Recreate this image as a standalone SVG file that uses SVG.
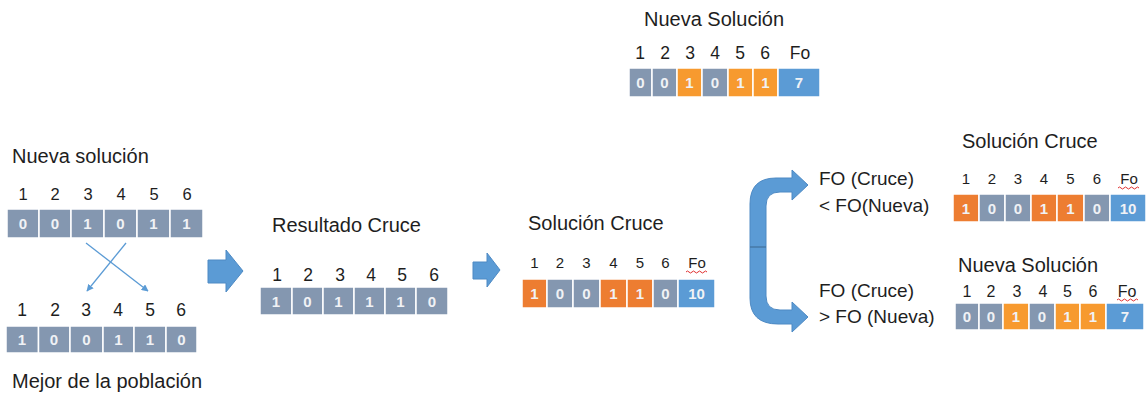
<svg xmlns="http://www.w3.org/2000/svg" width="1147" height="398" viewBox="0 0 1147 398">
<style>
text{font-family:"Liberation Sans",Arial,sans-serif;fill:#1e1e1e}
.title{font-size:20px}
.fo{font-size:19px}
.idx text{font-family:"Liberation Sans Narrow","Liberation Sans",Arial,sans-serif;text-anchor:middle}
.v{font-size:15px;font-weight:bold;fill:#F0F2F5;text-anchor:middle}
.g{fill:#8497B0;stroke:#fff;stroke-width:1.5}
.o{fill:#ED7D31;stroke:#fff;stroke-width:1.5}
.lo{fill:#F79A2F;stroke:#fff;stroke-width:1.5}
.b{fill:#5B9BD5;stroke:#fff;stroke-width:1.5}
.big{fill:#5B9BD5;stroke:#4E8AC4;stroke-width:1}
.thin{stroke:#5B9BD5;stroke-width:1.3;fill:none}
.sq{fill:none;stroke:#E03030;stroke-width:1}
</style>
<defs>
<marker id="ah" viewBox="0 0 10 10" refX="9" refY="5" markerWidth="7" markerHeight="7" orient="auto" markerUnits="userSpaceOnUse">
<path d="M0,0 L10,5 L0,10 Z" fill="#5B9BD5"/>
</marker>
</defs>

<g id="nueva-top">
<text class="title" x="644" y="26">Nueva Solución</text>
<g class="idx" font-size="17.5">
<text x="640" y="59">1</text><text x="665" y="59">2</text><text x="690" y="59">3</text><text x="715" y="59">4</text><text x="740" y="59">5</text><text x="765" y="59">6</text><text x="800" y="59">Fo</text>
</g>
<rect class="g" x="629" y="68" width="23" height="29"/><rect class="g" x="652" y="68" width="25" height="29"/><rect class="lo" x="677" y="68" width="25" height="29"/><rect class="g" x="702" y="68" width="26" height="29"/><rect class="lo" x="728" y="68" width="25" height="29"/><rect class="lo" x="753" y="68" width="25" height="29"/><rect class="b" x="778" y="68" width="42" height="29"/>
<text class="v" x="640.5" y="88">0</text><text class="v" x="664.5" y="88">0</text><text class="v" x="689.5" y="88">1</text><text class="v" x="715" y="88">0</text><text class="v" x="740.5" y="88">1</text><text class="v" x="765.5" y="88">1</text><text class="v" x="799" y="88">7</text>
</g>

<g id="nueva-left">
<text class="title" x="12" y="163">Nueva solución</text>
<g class="idx" font-size="16.5">
<text x="23" y="200">1</text><text x="55" y="200">2</text><text x="88" y="200">3</text><text x="121" y="200">4</text><text x="154" y="200">5</text><text x="187" y="200">6</text>
</g>
<rect class="g" x="7" y="209" width="32" height="29"/><rect class="g" x="39" y="209" width="32" height="29"/><rect class="g" x="71" y="209" width="33" height="29"/><rect class="g" x="104" y="209" width="33" height="29"/><rect class="g" x="137" y="209" width="33" height="29"/><rect class="g" x="170" y="209" width="33" height="29"/>
<text class="v" x="23" y="229">0</text><text class="v" x="55" y="229">0</text><text class="v" x="87.5" y="229">1</text><text class="v" x="120.5" y="229">0</text><text class="v" x="153.5" y="229">1</text><text class="v" x="186.5" y="229">1</text>
</g>

<g id="mejor-left">
<g class="idx" font-size="17.5">
<text x="22" y="316">1</text><text x="55" y="316">2</text><text x="86" y="316">3</text><text x="118" y="316">4</text><text x="150" y="316">5</text><text x="181" y="316">6</text>
</g>
<rect class="g" x="6" y="326" width="32.5" height="27"/><rect class="g" x="38.5" y="326" width="31.5" height="27"/><rect class="g" x="70" y="326" width="33" height="27"/><rect class="g" x="103" y="326" width="31" height="27"/><rect class="g" x="134" y="326" width="32" height="27"/><rect class="g" x="166" y="326" width="31" height="27"/>
<text class="v" x="22" y="345">1</text><text class="v" x="54" y="345">0</text><text class="v" x="86.5" y="345">0</text><text class="v" x="118.5" y="345">1</text><text class="v" x="150" y="345">1</text><text class="v" x="181.5" y="345">0</text>
<text class="title" x="12" y="388">Mejor de la población</text>
</g>

<g id="resultado">
<text class="title" x="272" y="232">Resultado Cruce</text>
<g class="idx" font-size="17.5">
<text x="277" y="281">1</text><text x="308" y="281">2</text><text x="340" y="281">3</text><text x="371" y="281">4</text><text x="402" y="281">5</text><text x="434" y="281">6</text>
</g>
<rect class="g" x="260" y="287" width="32" height="28"/><rect class="g" x="292" y="287" width="31" height="28"/><rect class="g" x="323" y="287" width="31" height="28"/><rect class="g" x="354" y="287" width="31" height="28"/><rect class="g" x="385" y="287" width="31" height="28"/><rect class="g" x="416" y="287" width="32" height="28"/>
<text class="v" x="276" y="306.5">1</text><text class="v" x="307.5" y="306.5">0</text><text class="v" x="338.5" y="306.5">1</text><text class="v" x="369.5" y="306.5">1</text><text class="v" x="400.5" y="306.5">1</text><text class="v" x="432" y="306.5">0</text>
</g>

<g id="solucion-mid">
<text class="title" x="528" y="230">Solución Cruce</text>
<g class="idx" font-size="15">
<text x="534.5" y="268">1</text><text x="560" y="268">2</text><text x="586.5" y="268">3</text><text x="613.5" y="268">4</text><text x="640" y="268">5</text><text x="665.5" y="268">6</text><text x="697" y="268">Fo</text>
</g>
<path class="sq" d="M686,272 q1.5,-2 3,0 t3,0 t3,0 t3,0 t3,0 t3,0 t3,0"/>
<rect class="o" x="522" y="279" width="25" height="29"/><rect class="g" x="547" y="279" width="26" height="29"/><rect class="g" x="573" y="279" width="27" height="29"/><rect class="o" x="600" y="279" width="27" height="29"/><rect class="o" x="627" y="279" width="26" height="29"/><rect class="g" x="653" y="279" width="25" height="29"/><rect class="b" x="678" y="279" width="37" height="29"/>
<text class="v" x="534.5" y="299">1</text><text class="v" x="560" y="299">0</text><text class="v" x="586.5" y="299">0</text><text class="v" x="613.5" y="299">1</text><text class="v" x="640" y="299">1</text><text class="v" x="665.5" y="299">0</text><text class="v" x="696.5" y="299">10</text>
</g>

<g id="solucion-right">
<text class="title" x="962" y="148">Solución Cruce</text>
<g class="idx" font-size="15">
<text x="966" y="184">1</text><text x="992" y="184">2</text><text x="1018" y="184">3</text><text x="1044" y="184">4</text><text x="1070.5" y="184">5</text><text x="1097" y="184">6</text><text x="1129" y="184">Fo</text>
</g>
<path class="sq" d="M1118,188 q1.5,-2 3,0 t3,0 t3,0 t3,0 t3,0 t3,0 t3,0"/>
<rect class="o" x="953" y="194" width="26" height="28"/><rect class="g" x="979" y="194" width="26" height="28"/><rect class="g" x="1005" y="194" width="26" height="28"/><rect class="o" x="1031" y="194" width="26" height="28"/><rect class="o" x="1057" y="194" width="27" height="28"/><rect class="g" x="1084" y="194" width="26" height="28"/><rect class="b" x="1110" y="194" width="36" height="28"/>
<text class="v" x="966" y="213.5">1</text><text class="v" x="992" y="213.5">0</text><text class="v" x="1018" y="213.5">0</text><text class="v" x="1044" y="213.5">1</text><text class="v" x="1070.5" y="213.5">1</text><text class="v" x="1097" y="213.5">0</text><text class="v" x="1128" y="213.5">10</text>
</g>

<g id="nueva-right">
<text class="title" x="958" y="272">Nueva Solución</text>
<g class="idx" font-size="16">
<text x="967" y="297">1</text><text x="991" y="297">2</text><text x="1017" y="297">3</text><text x="1043" y="297">4</text><text x="1067.5" y="297">5</text><text x="1093" y="297">6</text><text x="1127" y="297">Fo</text>
</g>
<path class="sq" d="M1117,300 q1.5,-2 3,0 t3,0 t3,0 t3,0 t3,0 t3,0 t3,0"/>
<rect class="g" x="955" y="303" width="24" height="27"/><rect class="g" x="979" y="303" width="24" height="27"/><rect class="lo" x="1003" y="303" width="26" height="27"/><rect class="g" x="1029" y="303" width="26" height="27"/><rect class="lo" x="1055" y="303" width="25" height="27"/><rect class="lo" x="1080" y="303" width="26" height="27"/><rect class="b" x="1106" y="303" width="38" height="27"/>
<text class="v" x="967" y="322">0</text><text class="v" x="991" y="322">0</text><text class="v" x="1016" y="322">1</text><text class="v" x="1042" y="322">0</text><text class="v" x="1067.5" y="322">1</text><text class="v" x="1093" y="322">1</text><text class="v" x="1125" y="322">7</text>
</g>

<g id="conditions">
<text class="fo" x="819" y="185">FO (Cruce)</text>
<text class="fo" x="819" y="212">&lt; FO(Nueva)</text>
<text class="fo" x="819" y="297">FO (Cruce)</text>
<text class="fo" x="819" y="323">&gt; FO (Nueva)</text>
</g>

<g id="connectors">
<line class="thin" x1="86" y1="243" x2="148" y2="291" marker-end="url(#ah)"/>
<line class="thin" x1="126" y1="243" x2="87" y2="291" marker-end="url(#ah)"/>
<path class="big" d="M208,260 L226,260 L226,250 L243,271 L226,292 L226,283 L208,283 Z"/>
<path class="big" d="M473,262 L487,262 L487,253 L500,270 L487,287 L487,279 L473,279 Z"/>
<path class="big" d="M808,185 L792,200 L792,192 L780,192 Q766,192 766,206 L766,296 Q766,310 780,310 L792,310 L792,302 L808,317 L792,332 L792,324 L778,324 Q750,324 750,298 L750,204 Q750,178 776,178 L792,178 L792,170 Z"/>
<line x1="750" y1="247" x2="766" y2="247" stroke="#41719C" stroke-width="1.2"/>
</g>
</svg>
